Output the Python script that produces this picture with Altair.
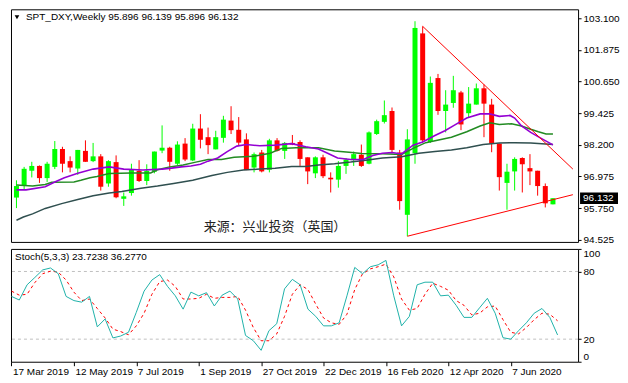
import altair as alt
import pandas as pd

# ---------------- data ----------------
opens = [96.158, 96.641, 97.197, 97.383, 96.912, 97.346, 98.040, 97.569, 97.283, 97.966,
         97.569, 97.754, 96.704, 97.531, 96.110, 96.333, 97.197, 96.800, 97.160, 97.977,
         98.088, 97.468, 98.248, 97.595, 98.831, 98.497, 98.025, 98.471, 99.139, 98.783,
         98.411, 97.320, 97.903, 97.235, 98.374, 97.966, 98.274, 98.311, 97.717, 97.097,
         97.717, 96.927, 96.852, 97.383, 97.606, 97.817, 97.468, 98.619, 99.091, 99.510,
         97.903, 95.490, 97.877, 102.517, 98.311, 100.787, 99.510, 99.822, 100.230, 99.425,
         99.759, 100.390, 99.759, 98.248, 96.726, 97.171, 97.691, 97.298, 97.197, 96.604,
         95.896]
highs = [96.826, 97.346, 97.543, 97.402, 97.543, 98.348, 98.125, 97.754, 98.003, 98.374,
         98.274, 97.840, 97.606, 97.791, 96.355, 97.468, 97.606, 97.446, 97.940, 98.953,
         98.125, 98.337, 98.460, 99.016, 99.388, 98.868, 98.745, 99.324, 99.696, 99.276,
         98.645, 97.903, 98.003, 98.434, 98.460, 98.311, 98.582, 98.374, 97.717, 97.754,
         97.817, 97.134, 97.569, 97.691, 97.940, 98.211, 98.719, 99.176, 99.918, 99.647,
         98.003, 98.805, 102.988, 102.792, 100.846, 100.947, 100.316, 100.872, 100.290, 100.438,
         100.575, 100.538, 99.982, 98.248, 97.468, 97.717, 97.717, 97.840, 97.197, 96.704,
         96.139]
lows = [95.750, 96.455, 96.938, 96.726, 96.763, 97.261, 97.134, 97.134, 97.038, 97.543,
        97.531, 96.429, 96.578, 96.132, 95.835, 96.232, 96.763, 96.641, 97.097, 97.877,
        97.197, 97.420, 97.569, 97.569, 98.062, 97.840, 98.025, 98.285, 98.619, 98.189,
        97.223, 97.134, 97.134, 97.134, 97.940, 97.654, 98.189, 97.383, 96.678, 96.912,
        96.912, 96.355, 96.541, 97.075, 97.383, 97.346, 97.446, 98.582, 99.027, 97.877,
        95.687, 94.662, 97.468, 98.274, 98.274, 99.362, 98.682, 99.636, 98.768, 99.239,
        99.759, 98.497, 97.914, 96.429, 95.687, 96.429, 96.355, 96.641, 96.232, 95.776,
        95.896]
closes = [96.604, 97.272, 97.383, 96.912, 97.468, 98.040, 97.468, 97.320, 98.003, 97.543,
          97.754, 96.578, 97.569, 96.169, 96.206, 97.235, 96.800, 97.197, 97.940, 98.088,
          97.543, 98.211, 97.632, 98.831, 98.396, 98.189, 98.497, 99.176, 98.768, 98.285,
          97.223, 97.840, 97.171, 98.374, 97.966, 98.274, 98.211, 97.654, 97.171, 97.717,
          96.986, 96.863, 97.383, 97.632, 97.840, 97.383, 98.682, 99.117, 99.350, 98.003,
          96.021, 98.411, 102.728, 98.374, 100.601, 99.510, 99.759, 100.316, 98.990, 99.796,
          100.390, 99.796, 98.248, 96.949, 97.160, 97.654, 97.446, 97.171, 96.604, 95.935,
          96.132]

# moving averages: week index -> value
ma_fast_w = [0, 1.25, 3.75, 5, 6.25, 8, 10, 12.1, 14, 16.5, 19, 20.25, 21.5, 22.75, 24, 25, 26.25,
             27.5, 28.75, 30, 31.75, 33.75, 35.9, 37.75, 39.4, 40.6, 41.9, 43.6, 45.25, 46.5,
             47.75, 49, 50.25, 51.75, 53, 54.6, 55.9, 57.1, 58.75, 60.5, 61.75, 63, 64.4, 65,
             65.9, 67.1, 68.4, 70]
ma_fast = [96.455, 96.455, 96.578, 96.763, 96.927, 97.097, 97.261, 97.346, 97.261, 97.223,
           97.261, 97.298, 97.346, 97.383, 97.446, 97.569, 97.691, 97.940, 98.151, 98.211,
           98.163, 98.189, 98.248, 98.125, 98.040, 97.877, 97.691, 97.632, 97.632, 97.791,
           97.877, 97.903, 97.847, 98.189, 98.311, 98.560, 98.745, 98.953, 99.239, 99.399,
           99.399, 99.302, 99.339, 99.239, 98.931, 98.682, 98.460, 98.200]
ma_mid_w = [0, 2.1, 3.75, 4.6, 7.5, 8.4, 9.6, 10.5, 12.1, 15, 17.5, 18.4, 20, 21.75, 23.4, 25,
            26.75, 28.4, 30.9, 33.1, 34.6, 36.5, 39.4, 41.5, 43.4, 45, 47.75, 50.25, 51.75,
            53.4, 56.75, 58.75, 60.5, 61.75, 63, 64.6, 65.9, 67.1, 68.1, 69.1, 70]
ma_mid = [96.641, 96.604, 96.667, 96.752, 96.763, 96.826, 96.927, 96.975, 97.086, 97.112,
          97.112, 97.235, 97.346, 97.420, 97.531, 97.632, 97.632, 97.717, 97.754, 97.877,
          98.062, 98.088, 98.088, 97.966, 97.914, 97.866, 97.854, 97.828, 98.062, 98.285,
          98.497, 98.708, 98.931, 99.054, 98.990, 99.016, 98.931, 98.805, 98.708, 98.619,
          98.619]
ma_slow_w = [0, 0.9, 2.1, 3.75, 5.9, 8, 10, 12.1, 13.75, 16.25, 18.4, 20.5, 23, 25.5, 27.5,
             29.6, 31.75, 33.75, 35.9, 37.75, 39.4, 41.5, 43.6, 45.6, 47.75, 50.25, 52.5,
             54.6, 56.75, 58.75, 60.9, 63, 65, 67.1, 70]
ma_slow = [95.278, 95.404, 95.527, 95.738, 95.924, 96.084, 96.232, 96.333, 96.392, 96.518,
           96.604, 96.704, 96.826, 97.012, 97.134, 97.223, 97.261, 97.298, 97.365, 97.357,
           97.420, 97.468, 97.531, 97.606, 97.691, 97.736, 97.877, 97.940, 98.003, 98.088,
           98.211, 98.274, 98.285, 98.274, 98.211]

# trend lines (week index, price)
trend_down_w = [53, 72.6]
trend_down_p = [102.79, 97.26]
trend_up_w = [51, 72.6]
trend_up_p = [94.66, 96.27]

stoch_k = [57.9, 54.7, 68.2, 74.7, 81.4, 83.1, 78.0, 57.9, 54.2, 52.8,
           57.9, 30.9, 37.9, 21.1, 22.8, 26.1, 43.8, 62.6, 72.4, 77.2,
           66.8, 58.4, 46.6, 61.7, 58.4, 61.2, 49.4, 59.0, 62.6, 55.6,
           23.3, 18.6, 10.1, 27.5, 33.7, 64.6, 73.0, 68.2, 46.6, 40.2,
           31.8, 31.8, 34.5, 58.4, 83.6, 78.0, 84.2, 85.9, 89.8, 58.4,
           31.8, 40.2, 68.2, 70.5, 70.5, 58.4, 59.0, 50.0, 39.3, 39.3,
           47.8, 56.2, 43.0, 21.3, 20.0, 27.5, 34.5, 43.0, 47.2, 39.3,
           23.7238]
stoch_d = [62.6, 59.0, 59.8, 70.2, 78.0, 80.3, 79.4, 72.4, 61.7, 54.2,
           55.6, 47.2, 38.8, 28.9, 26.7, 23.9, 31.8, 43.0, 59.8, 71.0,
           72.4, 66.8, 55.6, 55.6, 56.2, 59.8, 56.2, 57.0, 57.0, 57.9,
           45.7, 30.3, 18.6, 18.6, 24.7, 40.2, 59.8, 68.2, 64.0, 51.0,
           38.8, 34.5, 33.1, 42.1, 64.0, 78.0, 82.3, 84.2, 86.5, 75.2,
           55.6, 45.7, 47.2, 59.8, 69.6, 66.8, 63.4, 54.2, 50.0, 41.5,
           43.0, 48.6, 49.4, 37.3, 26.1, 24.7, 30.3, 37.3, 43.0, 42.1,
           36.2770]

date_ticks = ["17 Mar 2019", "12 May 2019", "7 Jul 2019", "1 Sep 2019", "27 Oct 2019",
              "22 Dec 2019", "16 Feb 2020", "12 Apr 2020", "7 Jun 2020"]
price_ticks = [103.100, 101.875, 100.650, 99.425, 98.200, 96.975, 95.750, 94.525]
stoch_ticks = [0, 20, 80, 100]
stoch_levels = [20, 80]

symbol = "SPT_DXY,Weekly"
source_text = "来源：兴业投资（英国）"

# ---------------- chart ----------------
FONT = "Liberation Sans"
W, H1, H2 = 568, 233, 113

n = len(opens)
candles = pd.DataFrame({"w": list(range(n)), "open": opens, "high": highs,
                        "low": lows, "close": closes})
candles["dir"] = ["up" if c >= o else "down" for o, c in zip(opens, closes)]

xs = alt.Scale(domain=[-0.0625, 72.625], nice=False, zero=False)
ps = alt.Scale(domain=[94.44, 103.45], nice=False, zero=False)
ss = alt.Scale(domain=[0, 100], nice=False, zero=False)
col = alt.Color("dir:N", scale=alt.Scale(domain=["up", "down"], range=["#00ff00", "#ff0000"]),
                legend=None)
X = alt.X("w:Q", scale=xs, axis=None, title=None)

price_axis = alt.Axis(values=price_ticks, format=".3f", orient="right", tickSize=3,
                      labelPadding=2, grid=False, domain=False, title=None)


def PY(field):
    return alt.Y(field, scale=ps, axis=price_axis, title=None)


wicks = alt.Chart(candles).mark_rule(strokeWidth=1).encode(
    x=X, y=PY("low:Q"), y2="high:Q", color=col)
bodies = alt.Chart(candles).mark_bar(size=5).encode(
    x=X, y=PY("open:Q"), y2="close:Q", color=col)


def pline(ws, vs, color, width):
    df = pd.DataFrame({"w": ws, "v": vs})
    return alt.Chart(df).mark_line(color=color, strokeWidth=width).encode(x=X, y=PY("v:Q"))


slow = pline(ma_slow_w, ma_slow, "#2f4f4f", 1.5)
mid = pline(ma_mid_w, ma_mid, "#228b22", 1.5)
fast = pline(ma_fast_w, ma_fast, "#9400d3", 1.6)
tdown = pline(trend_down_w, trend_down_p, "#ff0000", 1)
tup = pline(trend_up_w, trend_up_p, "#ff0000", 1)

last = pd.DataFrame({"p": [closes[-1]], "t": [f"{closes[-1]:.3f}"]})
box = alt.Chart(last).mark_point(shape="M-1,-0.3L1,-0.3L1,0.3L-1,0.3Z", filled=True,
                                 size=1444, color="black", opacity=1, strokeWidth=0).encode(
    x=alt.value(W + 21), y=PY("p:Q"))
boxtext = alt.Chart(last).mark_text(align="left", baseline="middle", color="white",
                                    font=FONT, fontSize=10).encode(
    x=alt.value(W + 5), y=PY("p:Q"), text="t:N")

header = pd.DataFrame({"t": [f"{symbol}  {opens[-1]:.3f} {highs[-1]:.3f} {lows[-1]:.3f} {closes[-1]:.3f}"]})
head = alt.Chart(header).mark_text(align="left", baseline="middle", font=FONT, fontSize=10,
                                   color="black").encode(
    x=alt.value(15), y=alt.value(8), text="t:N")
tri = alt.Chart(header).mark_point(shape="triangle-down", filled=True, size=22, color="black",
                                   opacity=1).encode(x=alt.value(6), y=alt.value(8))
src = alt.Chart(pd.DataFrame({"t": [source_text]})).mark_text(
    align="left", baseline="middle", font="Noto Sans CJK SC", fontSize=13, color="#222222").encode(
    x=alt.value(193), y=alt.value(218), text="t:N")

top = alt.layer(wicks, bodies, slow, mid, fast, tdown, tup, box, boxtext, head, tri, src).properties(
    width=W, height=H1)

# ---- stochastic panel ----
stoch = pd.DataFrame({"w": list(range(n)), "k": stoch_k, "d": stoch_d})
tick_weeks = [8 * i for i in range(len(date_ticks))]
label_expr = "[" + ",".join(f"'{t}'" for t in date_ticks) + "][round(datum.value / 8)]"
date_axis = alt.Axis(values=tick_weeks, labelExpr=label_expr, labelAlign="left",
                     labelOffset=1, tickSize=4, labelPadding=1, grid=False, domain=False,
                     title=None)
stoch_axis = alt.Axis(values=stoch_ticks, orient="right", labelFlush=True, tickSize=3,
                      labelPadding=2, grid=False, domain=False, title=None)
XB = alt.X("w:Q", scale=xs, axis=date_axis, title=None)


def SY(field):
    return alt.Y(field, scale=ss, axis=stoch_axis, title=None)


levels = alt.Chart(pd.DataFrame({"lv": stoch_levels})).mark_rule(
    color="#c0c0c0", strokeDash=[3, 3], strokeWidth=1).encode(y=SY("lv:Q"))
kline = alt.Chart(stoch).mark_line(color="#20b2aa", strokeWidth=1).encode(x=XB, y=SY("k:Q"))
dline = alt.Chart(stoch).mark_line(color="#ff0000", strokeWidth=1, strokeDash=[3, 3]).encode(
    x=XB, y=SY("d:Q"))
stitle = alt.Chart(pd.DataFrame({"t": [f"Stoch(5,3,3) {stoch_k[-1]:.4f} {stoch_d[-1]:.4f}"]})).mark_text(
    align="left", baseline="middle", font=FONT, fontSize=10, color="black").encode(
    x=alt.value(4), y=alt.value(8), text="t:N")

bottom = alt.layer(levels, dline, kline, stitle).properties(width=W, height=H2)

chart = alt.vconcat(top, bottom, spacing=2).properties(padding=0).configure_view(
    stroke="black", strokeWidth=1
).configure_axis(
    labelFont=FONT, labelFontSize=10, labelColor="black", tickColor="black"
)

chart.save("out.html", embed_options={"renderer": "svg", "actions": False})
